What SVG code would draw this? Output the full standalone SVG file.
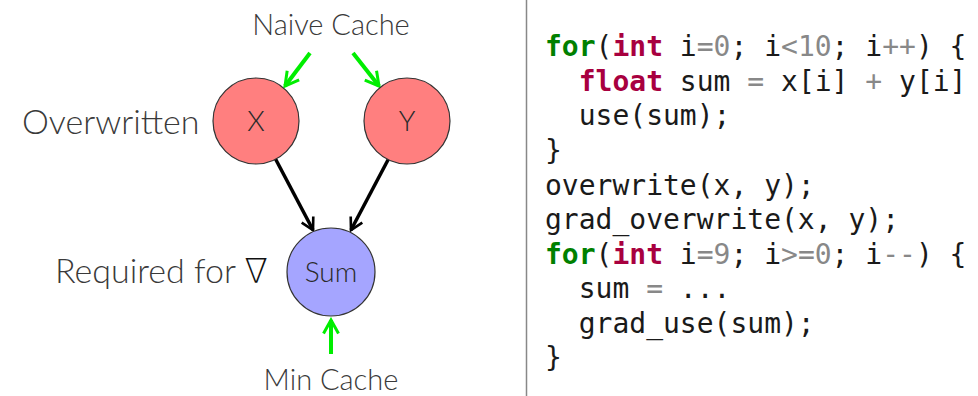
<svg xmlns="http://www.w3.org/2000/svg" width="978" height="396" viewBox="0 0 978 396">
  <style>
    .lbl { font-family: Lato, "Open Sans", sans-serif; font-weight: 300; fill: #3a3a3a; }
    .nabla { font-family: "DejaVu Sans", "Noto Sans", sans-serif; font-weight: 200; fill: #111; }
    .node { stroke: #333; stroke-width: 1.2; }
    .red { fill: #FF7F7F; }
    .blue { fill: #A5A5FF; }
    .nt { font-family: Lato, "Open Sans", sans-serif; font-weight: 300; font-size: 28px; fill: #2a2a2a; text-anchor: middle; }
    .dep { stroke: #000; stroke-width: 3.5; fill: none; marker-end: url(#blk); }
    .cache { stroke: #00EE00; stroke-width: 4; fill: none; marker-end: url(#grn); }
    .code { font-family: "DejaVu Sans Mono", "Liberation Mono", monospace; font-size: 28px; fill: #1a1a1a; white-space: pre; }
    .kw { fill: #008000; font-weight: bold; }
    .ty { fill: #A8003F; font-weight: bold; }
    .op { fill: #888; }
  </style>
  <defs>
    <marker id="blk" viewBox="0 0 12 12" refX="10" refY="6" markerWidth="4.5" markerHeight="4.5" markerUnits="strokeWidth" orient="auto">
      <path d="M1,1 L10,6 L1,11" fill="none" stroke="#000" stroke-width="2"/>
    </marker>
    <marker id="grn" viewBox="0 0 12 12" refX="10" refY="6" markerWidth="4.5" markerHeight="4.5" markerUnits="strokeWidth" orient="auto">
      <path d="M1,1 L10,6 L1,11" fill="none" stroke="#00EE00" stroke-width="2"/>
    </marker>
  </defs>

  <!-- divider -->
  <line x1="526.5" y1="0" x2="526.5" y2="396" stroke="#888" stroke-width="1.5"/>

  <!-- labels -->
  <text class="lbl" x="331" y="35" font-size="29" text-anchor="middle">Naive Cache</text>
  <text class="lbl" x="22" y="134" font-size="34">Overwritten</text>
  <text class="lbl" x="55" y="283" font-size="34">Required for <tspan class="nabla">∇</tspan></text>
  <text class="lbl" x="331" y="390" font-size="29" text-anchor="middle">Min Cache</text>

  <!-- connectors -->
  <g id="edges">
    <line class="dep" x1="275" y1="158" x2="313" y2="230"/>
    <line class="dep" x1="389" y1="158" x2="351" y2="230"/>
    <line class="cache" x1="310" y1="53" x2="285" y2="86"/>
    <line class="cache" x1="353" y1="53" x2="379" y2="86"/>
    <line class="cache" x1="331" y1="354" x2="331" y2="320"/>
  </g>

  <!-- nodes -->
  <g id="node-x">
    <circle class="node red" cx="256" cy="121" r="43"/>
    <text class="nt" x="256" y="131">X</text>
  </g>
  <g id="node-y">
    <circle class="node red" cx="407" cy="121" r="43"/>
    <text class="nt" x="407" y="131">Y</text>
  </g>
  <g id="node-sum">
    <circle class="node blue" cx="331" cy="272" r="44"/>
    <text class="nt" x="331" y="282">Sum</text>
  </g>

  <!-- code listing -->
  <g id="code">
    <text class="code" x="545" y="56"><tspan class="kw">for</tspan>(<tspan class="ty">int</tspan> i<tspan class="op">=0</tspan>; i<tspan class="op">&lt;10</tspan>; i<tspan class="op">++</tspan>) {</text>
    <text class="code" x="545" y="91">  <tspan class="ty">float</tspan> sum <tspan class="op">=</tspan> x[i] <tspan class="op">+</tspan> y[i]</text>
    <text class="code" x="545" y="125">  use(sum);</text>
    <text class="code" x="545" y="160">}</text>
    <text class="code" x="545" y="195">overwrite(x, y);</text>
    <text class="code" x="545" y="229">grad_overwrite(x, y);</text>
    <text class="code" x="545" y="264"><tspan class="kw">for</tspan>(<tspan class="ty">int</tspan> i<tspan class="op">=9</tspan>; i<tspan class="op">&gt;=0</tspan>; i<tspan class="op">--</tspan>) {</text>
    <text class="code" x="545" y="298">  sum <tspan class="op">=</tspan> ...</text>
    <text class="code" x="545" y="333">  grad_use(sum);</text>
    <text class="code" x="545" y="367">}</text>
  </g>
</svg>
